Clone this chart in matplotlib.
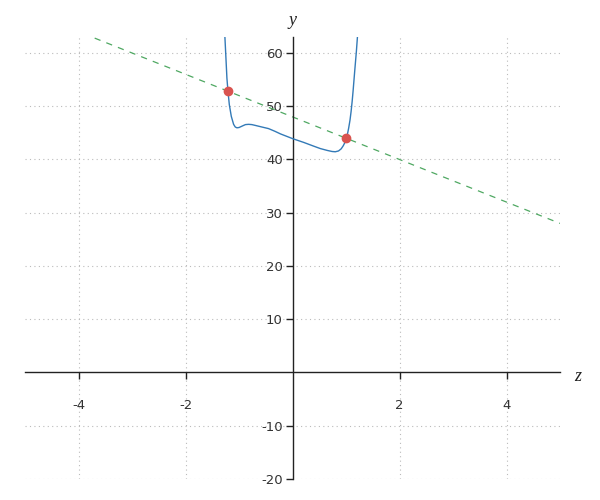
import matplotlib
matplotlib.use("Agg")
import matplotlib.pyplot as plt
import numpy as np

# Curve points
curve_x = [-1.263, -1.244, -1.226, -1.207, -1.181, -1.144, -1.101, -1.070, -1.039,
           -1.000, -0.946, -0.880, -0.821, -0.760, -0.696, -0.573, -0.448, -0.330,
           -0.224, 0.006, 0.211, 0.397, 0.520, 0.650, 0.740, 0.800, 0.860, 0.910,
           0.950, 0.980, 1.007, 1.030, 1.050, 1.075, 1.095, 1.115, 1.132, 1.162,
           1.194, 1.213]
curve_y = [62.9, 59.0, 55.3, 52.9, 50.3, 48.1, 46.6, 46.1, 45.95,
           46.0, 46.25, 46.55, 46.6, 46.55, 46.4, 46.1, 45.8, 45.3,
           44.8, 43.9, 43.2, 42.5, 42.05, 41.7, 41.5, 41.45, 41.6, 42.0,
           42.6, 43.2, 44.0, 44.9, 45.9, 47.4, 49.0, 50.9, 52.8, 56.5,
           60.3, 62.9]

# Dashed line endpoints
line_x = [-5, 5]
line_y = [68, 28]

# Intersection points
pts_x = [-1.207, 1.0]
pts_y = [52.83, 44.0]

xticks = [-4, -2, 2, 4]
yticks = [-20, -10, 10, 20, 30, 40, 50, 60]

plt.rcParams['axes.unicode_minus'] = False

fig = plt.figure(figsize=(6, 5), dpi=100)
ax = fig.add_axes([25/600, 21/500, 535/600, 442/500])
ax.set_xlim(-5, 5)
ax.set_ylim(-20, 63)

ax.grid(True, linestyle=(0, (1, 3)), color='#bbbbbb', linewidth=0.8)
ax.set_axisbelow(True)

ax.plot(line_x, line_y, linestyle=(0, (5, 5)), color='#4fa862', linewidth=0.9, zorder=2)
ax.plot(curve_x, curve_y, color='#337ab7', linewidth=1.0, zorder=3,
        solid_joinstyle='round')
ax.plot(pts_x, pts_y, 'o', color='#d9534f', markersize=6, zorder=4)

for s in ['top', 'right']:
    ax.spines[s].set_visible(False)
ax.spines['left'].set_position(('data', 0))
ax.spines['bottom'].set_position(('data', 0))
for s in ['left', 'bottom']:
    ax.spines[s].set_color('#222222')
    ax.spines[s].set_linewidth(1.0)

ax.set_xticks(xticks)
ax.set_yticks(yticks)
ax.set_xticklabels([str(t) for t in xticks])
ax.set_yticklabels([str(t) for t in yticks])
ax.tick_params(axis='x', direction='out', length=5, width=1, pad=14,
               labelsize=9.5, labelcolor='#333333', color='#222222')
ax.tick_params(axis='y', direction='out', length=5, width=1, pad=2,
               labelsize=9.5, labelcolor='#333333', color='#222222')

ax.annotate('y', xy=(0, 1.0), xycoords=('data', 'axes fraction'),
            xytext=(0, 6), textcoords='offset points', ha='center', va='bottom',
            fontsize=13, fontstyle='italic', family='Liberation Serif', color='#222222')
ax.annotate('z', xy=(1.0, 0), xycoords=('axes fraction', 'data'),
            xytext=(10, -3), textcoords='offset points', ha='left', va='center',
            fontsize=13, fontstyle='italic', family='Liberation Serif', color='#222222')

fig.savefig('out.png', dpi=100)
